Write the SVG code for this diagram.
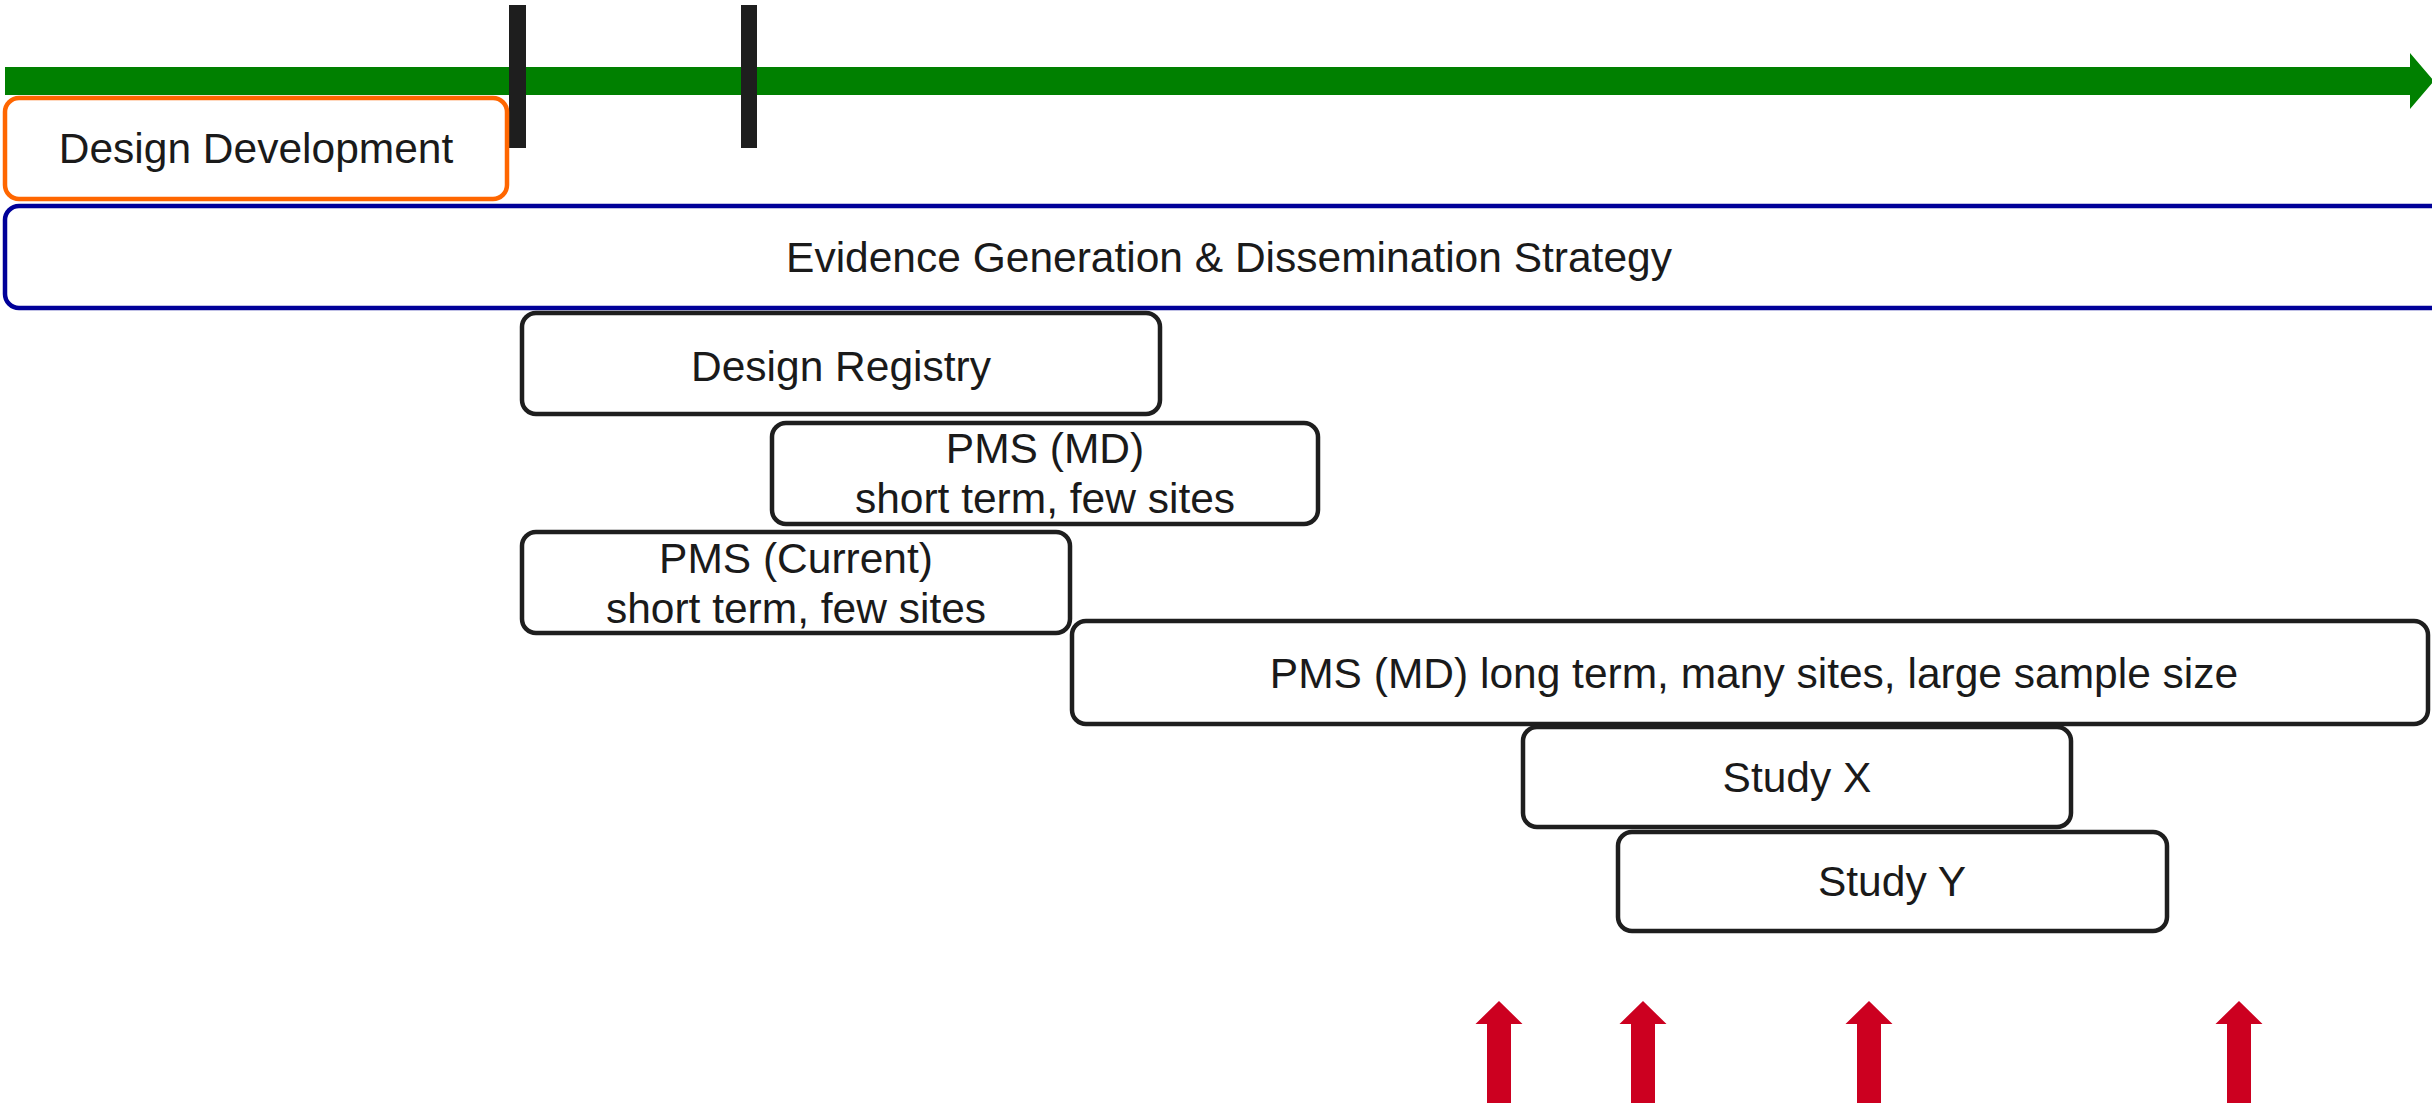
<svg xmlns="http://www.w3.org/2000/svg" width="2432" height="1106" viewBox="0 0 2432 1106">
  <style>
    .box { fill: #ffffff; stroke: #1e1e1e; stroke-width: 4.5; }
    .dd { fill: #ffffff; stroke: #ff6600; stroke-width: 4.5; }
    .ev { fill: #ffffff; stroke: #000099; stroke-width: 4.5; }
    .lbl { font-family: "Liberation Sans", Arial, sans-serif; font-size: 42.5px; fill: #1a1a1a; text-anchor: middle; }
    .tick { fill: #1e1e1e; }
    .red { fill: #cc0020; }
  </style>
  <defs>
    <path id="upArrow" d="M0,0 L23.5,23 L12,23 L12,102 L-12,102 L-12,23 L-23.5,23 Z"/>
  </defs>
  <rect width="2432" height="1106" fill="#ffffff"/>

  <g id="connectors">
    <polygon id="timeline" points="5,67 2410,67 2410,53 2434,81 2410,109 2410,95 5,95" fill="#008000"/>
    <rect class="tick" x="509" y="5" width="17" height="143"/>
    <rect class="tick" x="741" y="5" width="16" height="143"/>
    <use href="#upArrow" class="red" x="1499" y="1001"/>
    <use href="#upArrow" class="red" x="1643" y="1001"/>
    <use href="#upArrow" class="red" x="1869" y="1001"/>
    <use href="#upArrow" class="red" x="2239" y="1001"/>
  </g>

  <g id="design-development">
    <rect class="dd" x="5" y="98" width="502" height="101" rx="14"/>
    <text class="lbl" x="256" y="163">Design Development</text>
  </g>

  <g id="evidence-strategy">
    <rect class="ev" x="5" y="206" width="2448" height="102" rx="14"/>
    <text class="lbl" x="1229" y="272">Evidence Generation &amp; Dissemination Strategy</text>
  </g>

  <g id="design-registry">
    <rect class="box" x="522" y="313" width="638" height="101" rx="14"/>
    <text class="lbl" x="841" y="381">Design Registry</text>
  </g>

  <g id="pms-md-short">
    <rect class="box" x="772" y="423" width="546" height="101" rx="14"/>
    <text class="lbl" x="1045" y="463">PMS (MD)</text>
    <text class="lbl" x="1045" y="513">short term, few sites</text>
  </g>

  <g id="pms-current">
    <rect class="box" x="522" y="532" width="548" height="101" rx="14"/>
    <text class="lbl" x="796" y="573">PMS (Current)</text>
    <text class="lbl" x="796" y="623">short term, few sites</text>
  </g>

  <g id="pms-md-long">
    <rect class="box" x="1072" y="621" width="1356" height="103" rx="14"/>
    <text class="lbl" x="1754" y="688">PMS (MD) long term, many sites, large sample size</text>
  </g>

  <g id="study-x">
    <rect class="box" x="1523" y="727" width="548" height="100" rx="14"/>
    <text class="lbl" x="1797" y="792">Study X</text>
  </g>

  <g id="study-y">
    <rect class="box" x="1618" y="832" width="549" height="99" rx="14"/>
    <text class="lbl" x="1892" y="896">Study Y</text>
  </g>
</svg>
